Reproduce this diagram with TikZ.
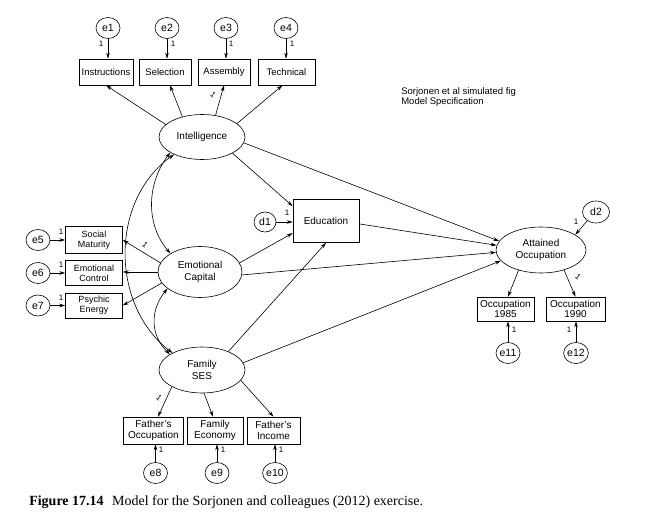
\documentclass[tikz,border=0pt]{standalone}
\usepackage{fontspec}
\setmainfont{Liberation Sans}
\newfontfamily\capfont{Liberation Serif}
\usetikzlibrary{shapes.geometric,arrows.meta,calc}
\begin{document}
\begin{tikzpicture}[x=1pt,y=-1pt,line width=0.6pt,
  lat/.style={ellipse,draw,inner sep=0pt,align=center,font=\fontsize{10}{12}\selectfont},
  obs/.style={rectangle,draw,inner sep=0pt,align=center,font=\fontsize{10}{10.5}\selectfont},
  sobs/.style={obs,font=\fontsize{9}{10}\selectfont},
  err/.style={ellipse,draw,inner sep=0pt,minimum width=24pt,minimum height=21pt,font=\fontsize{10.5}{12}\selectfont},
  arr/.style={-{Stealth[length=6pt,width=3.6pt]}},
  darr/.style={{Stealth[length=6pt,width=3.6pt]}-{Stealth[length=6pt,width=3.6pt]}},
  one/.style={font=\fontsize{8}{9}\selectfont,inner sep=0pt}]
\useasboundingbox (0,0) rectangle (653,529);

% top indicators
\node[err] (e1) at (108,28) {e1};
\node[err] (e2) at (167,28) {e2};
\node[err] (e3) at (226,28) {e3};
\node[err] (e4) at (286,28) {e4};
\node[sobs,font=\fontsize{9.5}{10}\selectfont,minimum width=54pt,minimum height=26pt] (b1) at (106,72) {Instructions};
\node[sobs,font=\fontsize{9.5}{10}\selectfont,minimum width=52pt,minimum height=26pt] (b2) at (165,72) {Selection};
\node[sobs,font=\fontsize{9.5}{10}\selectfont,minimum width=52pt,minimum height=26pt] (b3) at (224,72) {Assembly};
\node[sobs,font=\fontsize{9.5}{10}\selectfont,minimum width=57pt,minimum height=26pt] (b4) at (286.5,72) {Technical};
\draw[arr] (e1) -- (e1 |- b1.north);
\draw[arr] (e2) -- (e2 |- b2.north);
\draw[arr] (e3) -- (e3 |- b3.north);
\draw[arr] (e4) -- (e4 |- b4.north);
\node[one] (o1) at (101,44) {1};
\node[one] (o2) at (173,44) {1};
\node[one] (o3) at (231,44) {1};
\node[one] (o4) at (292,44) {1};

% latent variables
\node[lat,minimum width=86pt,minimum height=45pt] (intel) at (202,137) {Intelligence};
\node[lat,minimum width=84pt,minimum height=51pt] (ec) at (200,272) {Emotional\\Capital};
\node[lat,minimum width=86pt,minimum height=46pt] (fses) at (202,370) {Family\\SES};
\node[lat,minimum width=90pt,minimum height=46pt] (ao) at (541,250) {Attained\\Occupation};
\node[obs,minimum width=66pt,minimum height=43pt] (edu) at (326,221) {Education};
\node[err,minimum width=22pt,minimum height=20pt] (d1) at (265,222) {d1};
\node[err,minimum width=27pt,minimum height=22pt] (d2) at (596,212) {d2};

\node[anchor=north west,align=left,inner sep=0pt,font=\fontsize{9.5}{10.5}\selectfont] (note) at (401,87) {Sorjonen et al simulated fig\\Model Specification};

% intelligence indicators
\draw[arr] (intel.161) -- (b1.south);
\draw[arr] (intel.134) -- ($(b2.south)+(5,0)$);
\draw[arr] (intel.58) -- (b3.south);
\draw[arr] (intel.21) -- ($(b4.south)+(-4,0)$);
\node[one,rotate=-40] (o5) at (213,95) {1};

% structural paths
\draw[arr] (intel.-28) -- (edu.156);
\draw[arr] (intel.-8) -- (ao.168);
\draw[arr] (edu.-5) -- (ao.174);
\draw[arr] (ec.13) -- (edu.200);
\draw[arr] (ec.-4) -- (ao.183);
\draw[arr] (fses.35) -- (edu.south);
\draw[arr] (fses.10) -- (ao.195);
\draw[arr] (d1) -- (d1 -| edu.west);
\node[one] (o6) at (287,213) {1};
\draw[arr] (d2.225) -- (ao.24);
\node[one] (o7) at (576,222) {1};

% emotional capital indicators
\node[sobs,minimum width=57pt,minimum height=27pt] (sm) at (94,240) {Social\\Maturity};
\node[sobs,minimum width=57pt,minimum height=25pt] (ecn) at (94,273) {Emotional\\Control};
\node[sobs,minimum width=57pt,minimum height=25pt] (pe) at (94,305.5) {Psychic\\Energy};
\node[err] (e5) at (38,240) {e5};
\node[err] (e6) at (38,273) {e6};
\node[err] (e7) at (38,305.5) {e7};
\draw[arr] (e5) -- (e5 -| sm.west);
\draw[arr] (e6) -- (e6 -| ecn.west);
\draw[arr] (e7) -- (e7 -| pe.west);
\node[one] (o8) at (61,232) {1};
\node[one] (o9) at (61,265) {1};
\node[one] (o10) at (61,297.5) {1};
\draw[arr] (ec.167) -- (sm.east);
\draw[arr] (ec.west) -- (ec.west -| ecn.east);
\draw[arr] (ec.196) -- (pe.east);
\node[one,rotate=-40] (o11) at (145,245) {1};

% correlations
\draw[darr] (intel.206) .. controls (146,185) and (146,225) .. (ec.148);
\draw[darr] (ec.207) .. controls (150,310) and (150,335) .. (fses.154);
\draw[darr] (intel.212) .. controls (110,200) and (110,305) .. (fses.150);

% outcome indicators
\node[obs,minimum width=57pt,minimum height=24pt] (o85) at (505.5,309) {Occupation\\1985};
\node[obs,minimum width=59pt,minimum height=24pt] (o90) at (575.5,309) {Occupation\\1990};
\node[err] (e11) at (508,353) {e11};
\node[err] (e12) at (576,353) {e12};
\draw[arr] (ao.222) -- ($(o85.north)+(2.5,0)$);
\draw[arr] (ao.-41) -- (o90.north);
\node[one,rotate=-40] (o12) at (578,277) {1};
\draw[arr] (e11) -- (e11 |- o85.south);
\draw[arr] (e12) -- (e12 |- o90.south);
\node[one] (o13) at (514,330) {1};
\node[one] (o14) at (569,330) {1};

% family SES indicators
\node[obs,minimum width=60pt,minimum height=27pt] (fo) at (153.5,430.5) {Father's\\Occupation};
\node[obs,minimum width=56pt,minimum height=27pt] (fe) at (215,430.5) {Family\\Economy};
\node[obs,minimum width=53pt,minimum height=27pt] (fi) at (273.5,430.5) {Father's\\Income};
\node[err] (e8) at (155.5,473) {e8};
\node[err] (e9) at (217,473) {e9};
\node[err] (e10) at (275,473) {e10};
\draw[arr] (fses.209) -- ($(fo.north)+(4.5,0)$);
\draw[arr] (fses.275) -- ($(fe.north)+(-2,0)$);
\draw[arr] (fses.-15) -- (fi.north);
\node[one,rotate=-40] (o15) at (159,398) {1};
\draw[arr] (e8) -- (e8 |- fo.south);
\draw[arr] (e9) -- (e9 |- fe.south);
\draw[arr] (e10) -- (e10 |- fi.south);
\node[one] (o16) at (161,450) {1};
\node[one] (o17) at (223,450) {1};
\node[one] (o18) at (281,450) {1};

\node[anchor=base west,inner sep=0pt,font=\capfont\fontsize{14}{16}\selectfont] (cap) at (29,505) {\textbf{Figure 17.14}\hspace{0.6em}Model for the Sorjonen and colleagues (2012) exercise.};
\end{tikzpicture}
\end{document}
